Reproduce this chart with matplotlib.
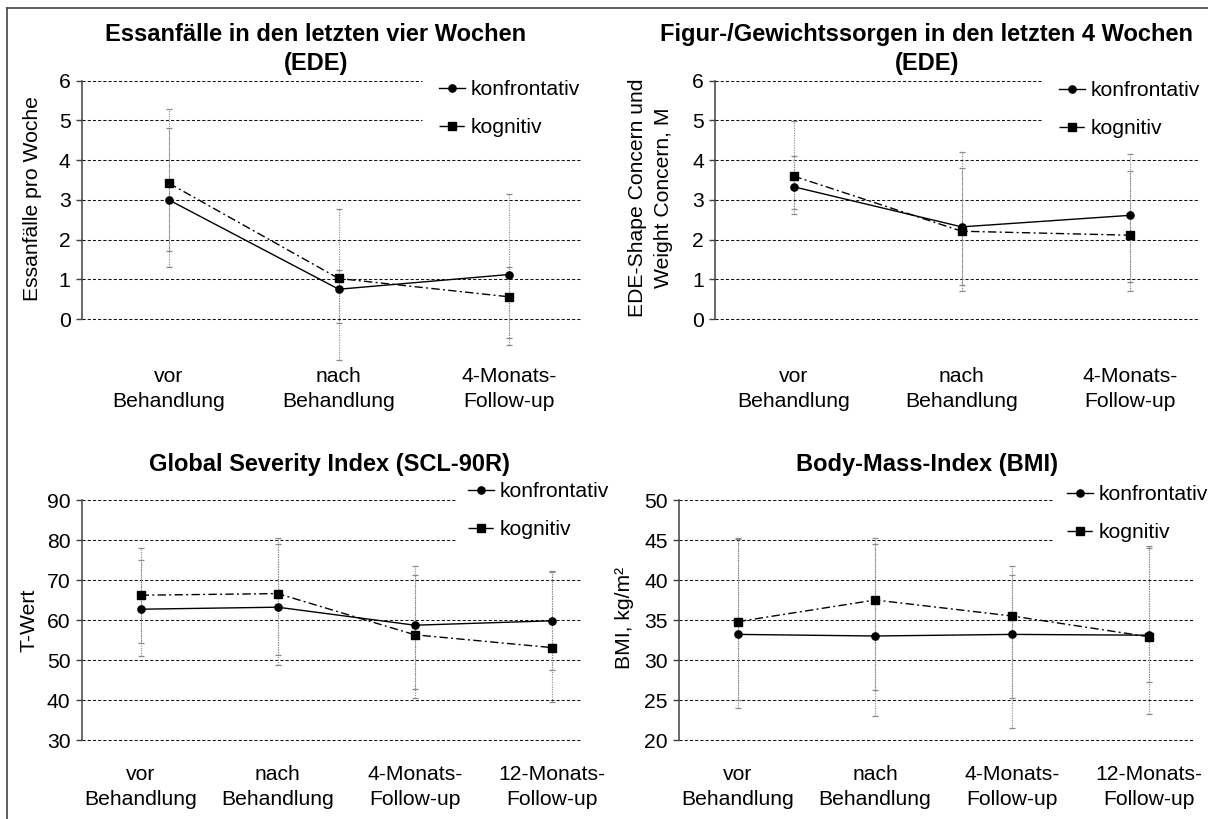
import numpy as np
import matplotlib
matplotlib.use("Agg")
import matplotlib.pyplot as plt
from matplotlib.lines import Line2D

plt.rcParams['font.family'] = ['Liberation Sans', 'DejaVu Sans']

# ---------------- data ----------------
cats3 = ["vor\nBehandlung", "nach\nBehandlung", "4-Monats-\nFollow-up"]
cats4 = ["vor\nBehandlung", "nach\nBehandlung", "4-Monats-\nFollow-up", "12-Monats-\nFollow-up"]
series_names = ["konfrontativ", "kognitiv"]

# Essanfälle (EDE)
ede_konf = [3.00, 0.75, 1.12]
ede_kogn = [3.42, 1.02, 0.56]
ede_konf_hi = [4.82, 1.23, 3.15]
ede_konf_lo = [1.32, -1.02, -0.65]
ede_kogn_hi = [5.29, 2.78, 1.32]
ede_kogn_lo = [1.72, -0.11, -0.49]

# Figur-/Gewichtssorgen (EDE)
shape_konf = [3.33, 2.32, 2.61]
shape_kogn = [3.60, 2.21, 2.11]
shape_konf_hi = [4.11, 3.81, 4.16]
shape_konf_lo = [2.65, 0.85, 0.94]
shape_kogn_hi = [4.99, 4.21, 3.73]
shape_kogn_lo = [2.77, 0.70, 0.71]

# Global Severity Index (SCL-90R)
gsi_konf = [62.7, 63.2, 58.7, 59.8]
gsi_kogn = [66.2, 66.6, 56.3, 53.1]
gsi_konf_hi = [74.9, 79.0, 73.6, 72.3]
gsi_konf_lo = [51.1, 48.7, 42.8, 47.4]
gsi_kogn_hi = [78.1, 80.5, 71.2, 72.0]
gsi_kogn_lo = [54.3, 51.3, 40.4, 39.4]

# BMI
bmi_konf = [33.2, 33.0, 33.2, 33.1]
bmi_kogn = [34.8, 37.5, 35.5, 32.9]
bmi_konf_hi = [45.1, 44.5, 40.6, 44.2]
bmi_konf_lo = [24.0, 23.0, 25.2, 23.3]
bmi_kogn_hi = [45.2, 45.3, 41.8, 44.0]
bmi_kogn_lo = [25.0, 26.3, 21.55, 27.3]

ede_ticks = [0, 1, 2, 3, 4, 5, 6]
gsi_ticks = [30, 40, 50, 60, 70, 80, 90]
bmi_ticks = [20, 25, 30, 35, 40, 45, 50]

# ---------------- figure ----------------
W, H = 1208, 819
fig = plt.figure(figsize=(W / 100, H / 100), dpi=100)

FS = 15.2
TFS = 17


def px_axes(l, r, t, b):
    return fig.add_axes([l / W, 1 - b / H, (r - l) / W, (b - t) / H])


def to_fig_px(x, y):
    return (x / W, 1 - y / H)


KOGN_DASH = (0, (6, 2.4, 1.4, 2.4))


def draw_panel(ax, cats, konf, kogn, konf_lo, konf_hi, kogn_lo, kogn_hi,
               ticks, xlim, ylim, short_frac, title, title_x, title_y,
               ylabel, ylabel_x, ylabel_y, leg_left, leg_top, xpad,
               ylab_linespacing=1.2):
    x = np.arange(len(cats))
    ax.set_xlim(*xlim)
    ax.set_ylim(*ylim)

    # grid lines (dashed), top two shortened for legend area
    for i, yv in enumerate(ticks):
        xmax = short_frac if i >= len(ticks) - 2 else 1.0
        ax.axhline(yv, xmin=0, xmax=xmax, color='#111111', lw=0.75,
                   ls=(0, (3, 2)), zorder=1)

    # error bars
    for m, lo, hi in ((konf, konf_lo, konf_hi), (kogn, kogn_lo, kogn_hi)):
        m = np.asarray(m)
        yerr = [m - np.asarray(lo), np.asarray(hi) - m]
        eb = ax.errorbar(x, m, yerr=yerr, fmt='none', ecolor='#8a8a8a',
                         elinewidth=0.8, capsize=2.3, capthick=0.9, zorder=2)
        for lc in eb[2]:
            lc.set_linestyle((0, (1, 1.2)))
        for cl in eb[1]:
            cl.set_color('#333333')

    l1, = ax.plot(x, konf, color='black', lw=1.0, ls='-', marker='o',
                  ms=5.2, mfc='black', mec='black', zorder=4,
                  label=series_names[0])
    l2, = ax.plot(x, kogn, color='black', lw=1.0, ls=KOGN_DASH, marker='s',
                  ms=5.4, mfc='black', mec='black', zorder=4,
                  label=series_names[1])

    # spines
    for s in ('top', 'right', 'bottom'):
        ax.spines[s].set_visible(False)
    ax.spines['left'].set_bounds(ticks[0], ticks[-1])
    ax.spines['left'].set_color('#404040')
    ax.spines['left'].set_linewidth(1.1)

    ax.set_yticks(ticks)
    ax.tick_params(axis='y', direction='out', length=4.5, width=1.0,
                   color='#404040', pad=3.5, labelsize=FS)
    ax.set_xticks(x, cats)
    ax.tick_params(axis='x', length=0, pad=xpad, labelsize=FS)
    for t in ax.get_xticklabels():
        t.set_linespacing(1.37)
    ax.patch.set_alpha(0)

    ax.set_title(title, fontsize=TFS, fontweight='bold', x=title_x,
                 y=title_y, va='top', pad=0, linespacing=1.35)

    ax.set_ylabel(ylabel, fontsize=FS, va='center',
                  linespacing=ylab_linespacing)
    ax.yaxis.set_label_coords(ylabel_x, ylabel_y)

    ax.legend(handles=[l1, l2], loc='upper left',
              bbox_to_anchor=to_fig_px(leg_left, leg_top),
              bbox_transform=fig.transFigure, frameon=False,
              fontsize=FS, handlelength=1.25, handletextpad=0.25,
              borderpad=0, borderaxespad=0, labelspacing=0.9,
              numpoints=1)
    return ax


# Panel 1
ax1 = px_axes(81.7, 581.7, 80.7, 362.7)
draw_panel(ax1, cats3, ede_konf, ede_kogn, ede_konf_lo, ede_konf_hi,
           ede_kogn_lo, ede_kogn_hi, ede_ticks, (-0.512, 2.429), (-1.1, 6),
           0.681, "Essanfälle in den letzten vier Wochen\n(EDE)",
           (316 - 81.7) / 500, (362.7 - 23) / 282,
           "Essanfälle pro Woche", (33 - 81.7) / 500, (362.7 - 199) / 282,
           439, 80, 3.2)

# Panel 2
ax2 = px_axes(715, 1200, 80.7, 362.7)
draw_panel(ax2, cats3, shape_konf, shape_kogn, shape_konf_lo, shape_konf_hi,
           shape_kogn_lo, shape_kogn_hi, ede_ticks, (-0.467, 2.417), (-1.1, 6),
           0.672, "Figur-/Gewichtssorgen in den letzten 4 Wochen\n(EDE)",
           (927 - 715) / 485, (362.7 - 23) / 282,
           "EDE-Shape Concern und\nWeight Concern, M", (650.5 - 715) / 485,
           (362.7 - 197.5) / 282, 1059, 81, 3.2, ylab_linespacing=1.45)

# Panel 3
ax3 = px_axes(81.7, 581.7, 500, 744)
draw_panel(ax3, cats4, gsi_konf, gsi_kogn, gsi_konf_lo, gsi_konf_hi,
           gsi_kogn_lo, gsi_kogn_hi, gsi_ticks, (-0.43, 3.217), (29, 90),
           0.751, "Global Severity Index (SCL-90R)",
           (329.5 - 81.7) / 500, (744 - 453) / 244,
           "T-Wert", (29 - 81.7) / 500, (744 - 620) / 244,
           468, 482, 15.2)

# Panel 4
ax4 = px_axes(679, 1193, 500, 744)
draw_panel(ax4, cats4, bmi_konf, bmi_kogn, bmi_konf_lo, bmi_konf_hi,
           bmi_kogn_lo, bmi_kogn_hi, bmi_ticks, (-0.431, 3.32), (19.5, 50),
           0.728, "Body-Mass-Index (BMI)",
           (927.5 - 679) / 514, (744 - 453) / 244,
           "BMI, kg/m²", (625 - 679) / 514, (744 - 618) / 244,
           1067, 485, 15.2)

# outer frame (top and left edges visible)
fig.add_artist(Line2D([7 / W, 1.0], [1 - 8 / H, 1 - 8 / H],
                      transform=fig.transFigure, color='#444444', lw=1.2))
fig.add_artist(Line2D([7 / W, 7 / W], [1 - 8 / H, 0.0],
                      transform=fig.transFigure, color='#444444', lw=1.2))

fig.savefig("out.png", dpi=100)
